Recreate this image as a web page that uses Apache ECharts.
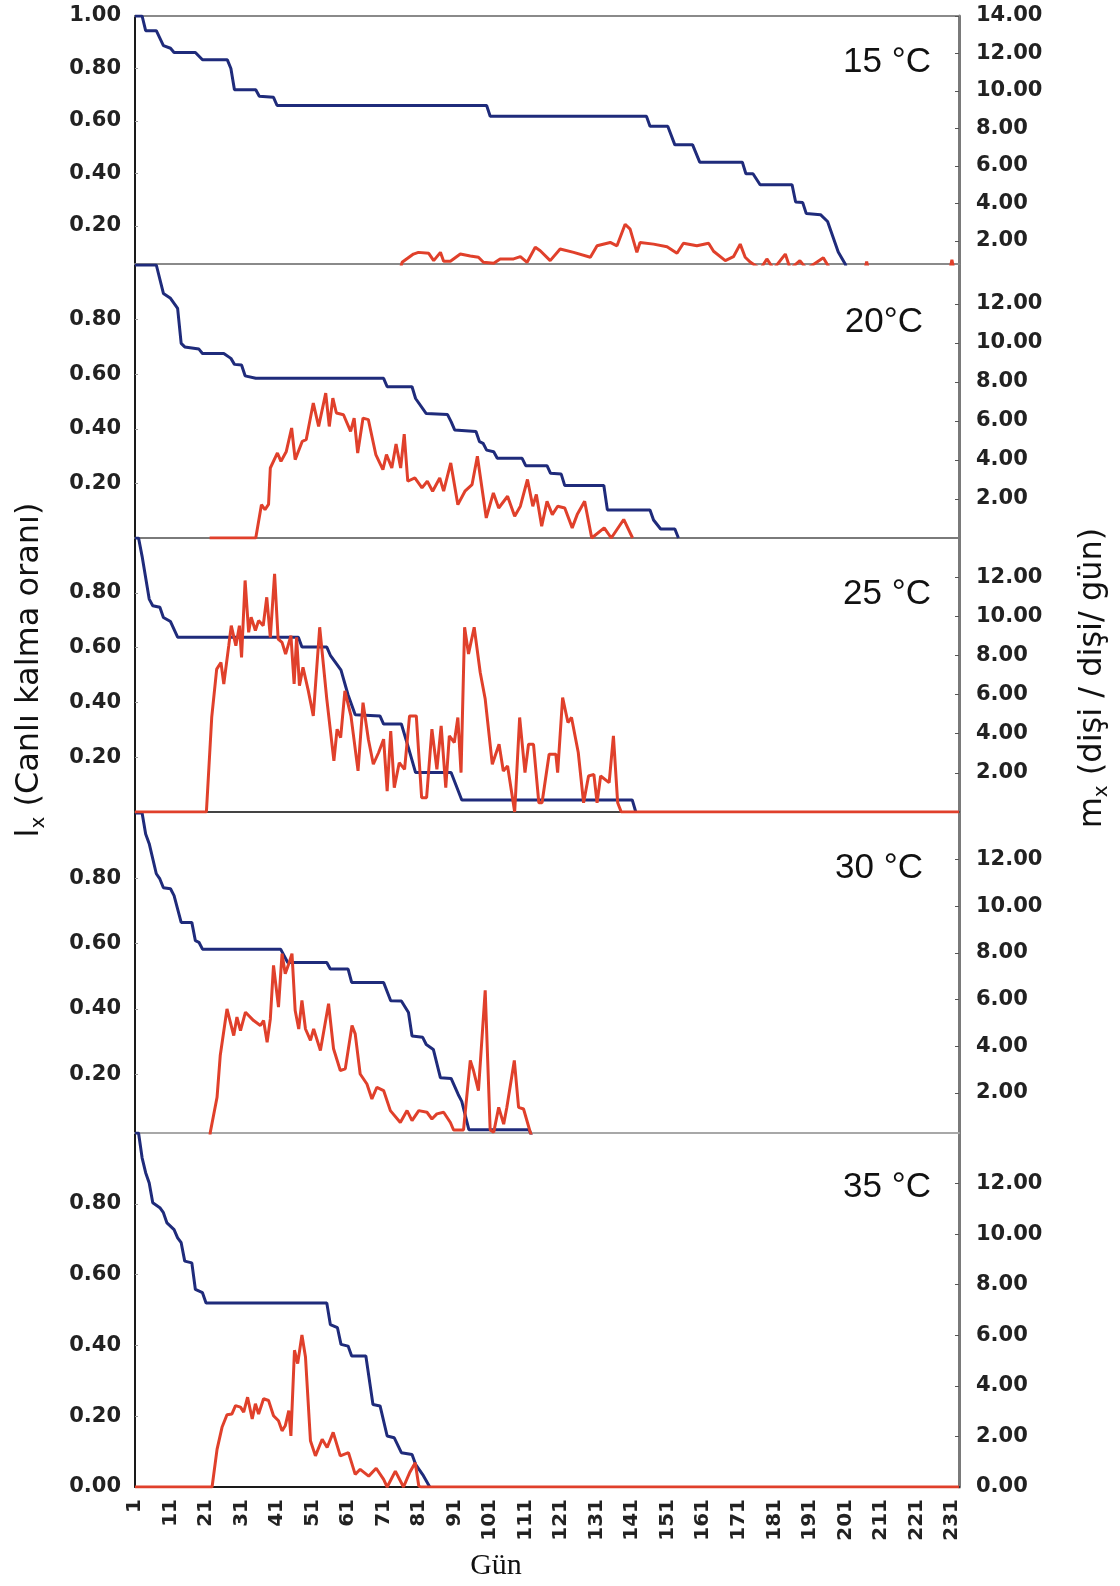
<!DOCTYPE html>
<html>
<head>
<meta charset="utf-8">
<script src="https://cdn.jsdelivr.net/npm/echarts@6/dist/echarts.min.js"></script>
<style>
  html, body { margin: 0; padding: 0; background: #fff; }
  #chart { width: 1120px; height: 1586px; }
</style>
</head>
<body>
<div id="chart"></div>
<script>
// bottom axis ticks (gün)
const dayTicks = [1, 11, 21, 31, 41, 51, 61, 71, 81, 91, 101, 111, 121, 131, 141, 151, 161, 171, 181, 191, 201, 211, 221, 231];
const panelTitles = ['15 °C', '20°C', '25 °C', '30 °C', '35 °C'];
const lxTicks = [0, 0.2, 0.4, 0.6, 0.8, 1.0];
const mxTicks = [0, 2, 4, 6, 8, 10, 12, 14];

// lx (survival), [day, value]
const lx15 = [[1,1],[3,1],[4,0.944],[7,0.944],[9,0.887],[11,0.877],[12,0.861],[18,0.861],[20,0.833],[27,0.833],[28,0.80],[29,0.719],[35,0.719],[36,0.694],[40,0.69],[41,0.659],[100,0.659],[101,0.618],[145,0.618],[146,0.58],[151,0.58],[153,0.509],[158,0.509],[160,0.443],[172,0.443],[173,0.399],[175,0.399],[177,0.357],[186,0.357],[187,0.291],[189,0.289],[190,0.247],[194,0.243],[196,0.217],[199,0.101],[201,0.054],[202,0]];
const lx20 = [[1,1],[7,1],[9,0.896],[11,0.878],[13,0.841],[14,0.713],[15,0.70],[19,0.692],[20,0.676],[26,0.676],[28,0.658],[29,0.636],[31,0.634],[32,0.594],[35,0.585],[71,0.585],[72,0.554],[79,0.554],[80,0.511],[83,0.456],[89,0.452],[90,0.426],[91,0.396],[97,0.39],[98,0.353],[99,0.347],[100,0.322],[102,0.316],[103,0.292],[110,0.292],[111,0.265],[117,0.265],[118,0.237],[121,0.234],[122,0.192],[133,0.192],[134,0.103],[146,0.103],[147,0.066],[149,0.033],[153,0.033],[154,0]];
const lx25 = [[1,1],[2,1],[3,0.933],[5,0.777],[6,0.753],[8,0.747],[9,0.71],[11,0.695],[13,0.638],[47,0.638],[48,0.602],[55,0.602],[56,0.572],[58,0.536],[59,0.518],[61,0.427],[63,0.355],[70,0.35],[71,0.321],[76,0.321],[78,0.234],[80,0.144],[90,0.144],[93,0.044],[141,0.044],[142,0]];
const lx30 = [[1,1],[3,1],[4,0.936],[5,0.906],[7,0.814],[8,0.798],[9,0.771],[11,0.768],[12,0.747],[14,0.665],[17,0.665],[18,0.609],[19,0.604],[20,0.583],[42,0.583],[44,0.542],[55,0.542],[56,0.522],[61,0.522],[62,0.481],[71,0.481],[73,0.425],[76,0.424],[78,0.389],[79,0.317],[82,0.313],[83,0.291],[85,0.276],[87,0.189],[90,0.187],[92,0.138],[93,0.117],[95,0.03],[112,0.03],[113,0]];
const lx35 = [[1,1],[2,1],[3,0.93],[4,0.888],[5,0.859],[6,0.803],[8,0.789],[9,0.775],[10,0.746],[12,0.727],[13,0.704],[14,0.69],[15,0.638],[17,0.633],[18,0.558],[20,0.549],[21,0.52],[55,0.52],[56,0.459],[58,0.45],[59,0.403],[61,0.398],[62,0.37],[66,0.37],[68,0.233],[70,0.229],[72,0.144],[74,0.139],[76,0.097],[79,0.092],[80,0.064],[82,0.035],[84,0]];

// mx (dişi / dişi / gün), [day, value]
const mx15 = [[1,0],[75,0],[76.2,0.86],[79.4,1.30],[80.8,1.39],[83.7,1.34],[85.1,0.95],[87.0,1.39],[87.9,0.92],[89.8,0.92],[92.6,1.30],[95.4,1.20],[97.7,1.13],[99.1,0.86],[102.0,0.81],[103.8,1.04],[107.6,1.04],[109.5,1.16],[111.4,0.86],[113.7,1.66],[115.1,1.48],[117.9,0.95],[120.7,1.57],[124.5,1.39],[129.2,1.13],[131.1,1.74],[134.8,1.92],[136.7,1.74],[139.0,2.89],[140.4,2.63],[142.3,1.39],[143.2,1.92],[147.0,1.83],[150.8,1.69],[153.6,1.34],[155.4,1.88],[159.2,1.74],[162.5,1.88],[163.9,1.45],[167.2,0.95],[169.5,1.16],[171.4,1.83],[172.8,1.13],[174.3,0.86],[177.1,0.5],[178.9,1.04],[180.8,0.5],[184.1,1.30],[185.5,0.5],[188.2,0.95],[190.1,0.5],[194.8,1.10],[196.7,0.5],[200,0],[206,0],[207,0.9],[208,0],[230,0],[231,1.0],[232,0],[233,0]];
const mx20 = [[22,0],[35,0],[36.6,1.71],[37.6,1.46],[38.6,1.72],[39.1,3.59],[41.1,4.36],[42.1,3.93],[43.6,4.44],[45.1,5.64],[46.1,4.02],[48.1,4.96],[49.2,5.04],[51.2,6.92],[52.7,5.72],[54.7,7.43],[55.7,5.72],[56.7,7.17],[57.7,6.41],[59.7,6.32],[61.7,5.47],[62.7,6.15],[63.7,4.36],[65.2,6.15],[66.7,6.07],[68.8,4.28],[70.8,3.51],[71.8,4.28],[73.3,3.59],[74.5,4.82],[75.8,3.59],[76.8,5.33],[77.8,2.91],[79.8,3.08],[81.8,2.57],[83.3,2.91],[84.8,2.40],[86.8,3.08],[87.9,2.40],[89.9,3.85],[91.9,1.71],[93.9,2.40],[95.9,2.74],[97.4,4.19],[99.9,1.03],[101.9,2.31],[103.4,1.54],[105.9,2.14],[107.9,1.12],[109.5,1.63],[111.5,3.0],[113,1.63],[114,2.23],[115.5,0.6],[117,1.88],[118.5,1.2],[120,1.63],[122,1.54],[124.1,0.52],[125.5,1.2],[127.6,1.88],[129.6,0],[133.1,0.52],[135.1,0],[138.6,0.95],[141.1,0]];
const mx25 = [[1,0],[21.1,0],[22.6,4.83],[24.0,7.30],[25.2,7.64],[26.0,6.54],[27.4,8.50],[28.1,9.52],[29.4,8.50],[30.4,9.52],[31.0,7.90],[32.0,11.83],[33.0,9.18],[33.7,9.95],[34.9,9.27],[35.8,9.78],[37.1,9.52],[38.1,10.97],[39.1,8.92],[40.3,12.17],[41.3,8.84],[42.4,8.67],[43.4,8.07],[44.9,9.01],[45.8,6.54],[46.5,8.92],[47.3,6.45],[48.3,7.39],[49.8,6.19],[51.2,4.91],[53.0,9.44],[55.0,5.77],[57.0,2.61],[57.9,4.23],[58.9,3.80],[60.1,6.19],[61.8,4.91],[63.8,2.10],[65.2,5.59],[66.7,3.72],[68.1,2.44],[69.6,3.04],[71.0,3.72],[72.0,1.07],[73.0,4.14],[74.0,1.24],[75.4,2.52],[76.9,2.18],[78.3,4.91],[80.2,4.91],[81.7,0.73],[83.1,0.73],[84.6,4.23],[86.0,2.18],[87.2,4.40],[88.5,1.24],[89.5,3.89],[90.9,3.55],[91.9,4.83],[92.8,2.01],[93.8,9.44],[94.9,8.07],[96.5,9.44],[98.2,7.13],[99.6,5.77],[101.6,2.44],[103.5,3.46],[104.7,2.10],[105.9,2.35],[107.9,0],[109.3,4.83],[110.8,2.01],[111.8,3.46],[113.2,3.46],[114.7,0.47],[115.6,0.47],[117.6,2.95],[119.5,2.95],[120.0,2.01],[121.4,5.85],[122.9,4.57],[123.9,4.83],[125.8,3.04],[127.3,0.47],[128.7,1.84],[130.2,1.92],[131.1,0.47],[132.1,1.84],[134.5,1.50],[135.7,3.89],[136.9,0.47],[137.9,0],[233,0]];
const mx30 = [[1,0],[22,0],[22.2,0.31],[24.1,1.81],[25.0,3.60],[26.9,5.60],[28.8,4.46],[29.7,5.25],[30.7,4.67],[32.1,5.46],[34.4,5.10],[36.3,4.89],[37.2,5.10],[38.2,4.17],[39.1,5.17],[40.0,7.47],[41.4,5.68],[42.4,7.97],[43.3,7.11],[44.3,7.54],[45.2,7.97],[46.1,5.53],[47.1,4.74],[48.0,5.96],[49.0,4.74],[50.4,4.25],[51.3,4.74],[53.2,3.82],[55.5,5.82],[56.9,3.89],[58.8,2.96],[60.2,3.03],[62.1,4.89],[63.0,4.53],[64.4,2.81],[66.3,2.38],[67.7,1.74],[69.1,2.24],[71.0,2.10],[72.9,1.24],[75.7,0.73],[77.6,1.24],[79.0,0.81],[80.9,1.24],[83.2,1.17],[84.6,0.88],[86.0,1.10],[87.9,1.17],[89.8,0.73],[90.7,0.41],[93.5,0.41],[95.4,3.39],[96.3,2.96],[97.7,2.10],[99.6,6.40],[101.0,0.41],[102.0,0.31],[103.4,1.38],[104.8,0.66],[105.7,1.38],[107.8,3.39],[109.0,1.38],[110.4,1.31],[112.3,0.31],[113,0],[233,0]];
const mx35 = [[1,0],[22.7,0],[24.1,1.49],[25.5,2.36],[26.9,2.86],[28.3,2.89],[29.3,3.22],[30.7,3.16],[31.6,2.96],[32.7,3.55],[34.0,2.69],[34.9,3.29],[35.8,2.89],[37.2,3.49],[38.6,3.42],[40.0,2.82],[41.4,2.62],[42.4,2.22],[43.3,2.42],[44.3,3.02],[44.9,2.02],[45.9,5.41],[46.8,4.88],[48.0,6.01],[49.0,5.14],[50.4,1.83],[51.8,1.23],[53.7,1.89],[55.1,1.56],[56.8,2.16],[58.8,1.23],[61.1,1.36],[63.0,0.50],[64.4,0.70],[66.8,0.43],[68.9,0.74],[71.0,0.30],[72.0,0],[74.3,0.63],[76.6,0],[78.3,0.56],[79.9,0.96],[80.9,0.04],[81.5,0],[233,0]];

const lxSets = [lx15, lx20, lx25, lx30, lx35];
const mxSets = [mx15, mx20, mx25, mx30, mx35];

const chart = echarts.init(document.getElementById('chart'));

// panels are cut from separate figures, so each one has its own box and y range
const boxes = [
  { top: 16, height: 248, lxMin: 0.055, mxMin: 0.77 },
  { top: 265, height: 273, lxMin: 0, mxMin: 0 },
  { top: 538, height: 274, lxMin: 0, mxMin: 0 },
  { top: 813, height: 320, lxMin: 0.02, mxMin: 0.28 },
  { top: 1133, height: 354, lxMin: 0, mxMin: 0 }
];
const baseColors = ['#8a8a8a', '#7a7a7a', '#444', '#a8a8a8', '#1a1a1a'];
const labelFont = { fontFamily: '"DejaVu Sans"', fontWeight: 'bold', fontSize: 21, color: '#222' };

const grid = [], xAxis = [], yAxis = [], series = [];

boxes.forEach((b, i) => {
  const first = i === 0, last = i === boxes.length - 1;
  grid.push({ left: 135, right: 161, top: b.top, height: b.height });

  xAxis.push({
    type: 'value', gridIndex: i, min: 1, max: 233,
    axisLine: { onZero: false, lineStyle: { color: baseColors[i], width: 2 } },
    axisTick: { show: false },
    splitLine: { show: false },
    axisLabel: last ? {
      ...labelFont, fontSize: 20, rotate: 90, margin: 12,
      customValues: dayTicks,
      formatter: v => String(v)
    } : { show: false }
  });

  const lxShown = lxTicks.filter(v => (v > b.lxMin || (last && v === 0)) && (v < 1 || first));
  const mxShown = mxTicks.filter(v => (v > b.mxMin || (last && v === 0)) && (v < 14 || first));

  yAxis.push({
    type: 'value', gridIndex: i, position: 'left', min: b.lxMin, max: 1,
    axisLine: { show: true, onZero: false, lineStyle: { color: '#1a1a1a', width: 2 } },
    axisTick: { show: true, inside: true, length: 3, customValues: lxShown, lineStyle: { color: '#999' } },
    splitLine: { show: false },
    axisLabel: { ...labelFont, margin: 14, customValues: lxShown, formatter: v => v.toFixed(2) }
  });
  yAxis.push({
    type: 'value', gridIndex: i, position: 'right', min: b.mxMin, max: 14,
    axisLine: { show: true, onZero: false, lineStyle: { color: '#7a7a7a', width: 3 } },
    axisTick: { show: true, inside: true, length: 4, customValues: mxShown, lineStyle: { color: '#555' } },
    splitLine: { show: false },
    axisLabel: { ...labelFont, margin: 17, customValues: mxShown, formatter: v => v.toFixed(2) }
  });

  series.push({
    type: 'line', xAxisIndex: i, yAxisIndex: 2 * i, data: lxSets[i],
    symbol: 'none', z: 3, clip: true,
    lineStyle: { color: '#1f2b7b', width: 3 }
  });
  series.push({
    type: 'line', xAxisIndex: i, yAxisIndex: 2 * i + 1, data: mxSets[i],
    symbol: 'none', z: 4, clip: true,
    lineStyle: { color: '#e0402b', width: 3 }
  });
});

// line along the top of the first panel
xAxis.push({
  type: 'value', gridIndex: 0, position: 'top', min: 1, max: 233,
  axisLine: { onZero: false, lineStyle: { color: '#8a8a8a', width: 2 } },
  axisTick: { show: false }, axisLabel: { show: false }, splitLine: { show: false }
});

const titleSpots = [[931, 62], [923, 322], [931, 594], [923, 868], [931, 1187]];
const graphic = panelTitles.map((t, i) => ({
  type: 'text', x: titleSpots[i][0], y: titleSpots[i][1],
  style: {
    text: t, font: '35px "Liberation Sans", Arial', fill: '#111',
    align: 'right', verticalAlign: 'middle', textAlign: 'right', textVerticalAlign: 'middle'
  }
}));

const subRich = {
  a: { font: '32px "DejaVu Sans"', fill: '#111', lineHeight: 38 },
  b: { font: '20px "DejaVu Sans"', fill: '#111', lineHeight: 38, verticalAlign: 'bottom', padding: [14, 0, 0, 0] }
};
graphic.push({
  type: 'text', x: 30, y: 670, rotation: Math.PI / 2,
  style: {
    text: '{a|l}{b|x}{a| (Canlı kalma oranı)}',
    align: 'center', verticalAlign: 'middle', textAlign: 'center', textVerticalAlign: 'middle',
    rich: subRich
  }
});
graphic.push({
  type: 'text', x: 1093, y: 678, rotation: Math.PI / 2,
  style: {
    text: '{a|m}{b|x}{a| (dişi / dişi/ gün)}',
    align: 'center', verticalAlign: 'middle', textAlign: 'center', textVerticalAlign: 'middle',
    rich: subRich
  }
});
graphic.push({
  type: 'text', x: 496, y: 1566,
  style: {
    text: 'Gün', font: '30px "Liberation Serif", "Times New Roman", serif', fill: '#111',
    align: 'center', verticalAlign: 'middle', textAlign: 'center', textVerticalAlign: 'middle'
  }
});

chart.setOption({
  animation: false,
  backgroundColor: '#fff',
  grid, xAxis, yAxis, series, graphic
});
</script>
</body>
</html>
